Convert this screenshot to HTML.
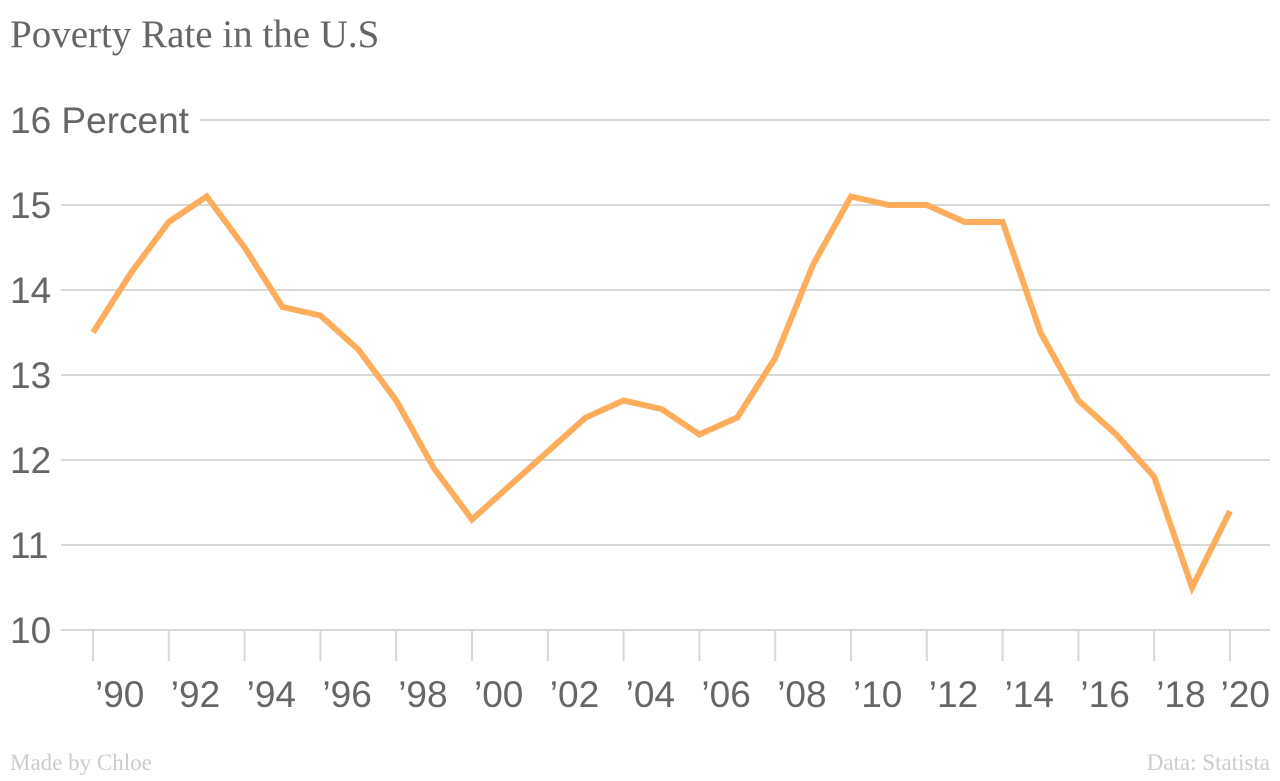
<!DOCTYPE html>
<html><head><meta charset="utf-8"><style>
body{margin:0;background:#fff;width:1280px;height:776px;overflow:hidden}
svg text{font-family:"Liberation Sans",sans-serif}
</style></head><body>
<svg width="1280" height="776" id="chart">
<text x="10" y="47" style="font-family:'Liberation Serif',serif" font-size="39" fill="#666">Poverty Rate in the U.S</text>
<text x="10" y="770" style="font-family:'Liberation Serif',serif" font-size="23" fill="#ccc">Made by Chloe</text>
<text x="1270" y="770" text-anchor="end" style="font-family:'Liberation Serif',serif" font-size="23" fill="#ccc">Data: Statista</text>
<g id="grid"></g><g id="xax"></g><g id="plot"></g>
</svg>
<script>
const years=[1990,1991,1992,1993,1994,1995,1996,1997,1998,1999,2000,2001,2002,2003,2004,2005,2006,2007,2008,2009,2010,2011,2012,2013,2014,2015,2016,2017,2018,2019,2020];
const rates=[13.5,14.2,14.8,15.1,14.5,13.8,13.7,13.3,12.7,11.9,11.3,11.7,12.1,12.5,12.7,12.6,12.3,12.5,13.2,14.3,15.1,15.0,15.0,14.8,14.8,13.5,12.7,12.3,11.8,10.5,11.4];
const yTicks=[10,11,12,13,14,15,16];
const xTicks=[1990,1992,1994,1996,1998,2000,2002,2004,2006,2008,2010,2012,2014,2016,2018,2020];
const xs=y=>93+(y-1990)*(1230-93)/30;
const ys=v=>630-(v-10)*85;
const NS="http://www.w3.org/2000/svg";
function mk(t,a,p){const e=document.createElementNS(NS,t);for(const k in a)e.setAttribute(k,a[k]);p.appendChild(e);return e;}
const g=document.getElementById('grid'),xa=document.getElementById('xax'),pl=document.getElementById('plot');
yTicks.forEach(v=>{
  const top=v===16;
  const l=mk('line',{x1:top?200:61,x2:1270,y1:ys(v),y2:ys(v),stroke:'#d8d8d8','stroke-width':2},g);
  
  
  const t=mk('text',{x:10,y:ys(v)+13,'font-size':37,fill:'#666'},g);
  t.textContent=top?v+' Percent':String(v);
  
  
});
xTicks.forEach((y,i)=>{
  const x=xs(y);
  const l=mk('line',{x1:x,x2:x,y1:630,y2:661,stroke:'#d8d8d8','stroke-width':2},xa);
  
  
  const last=i===xTicks.length-1;
  const t=mk('text',{x:last?1270:x+2,y:707,'font-size':37,fill:'#666','text-anchor':last?'end':'start'},xa);
  t.textContent='\u2019'+String(y).slice(2);
  
  
});
const p=mk('polyline',{points:years.map((y,i)=>xs(y)+','+ys(rates[i])).join(' '),fill:'none',stroke:'#fdad5c','stroke-width':6,'stroke-linejoin':'miter'},pl);


</script>
</body></html>
